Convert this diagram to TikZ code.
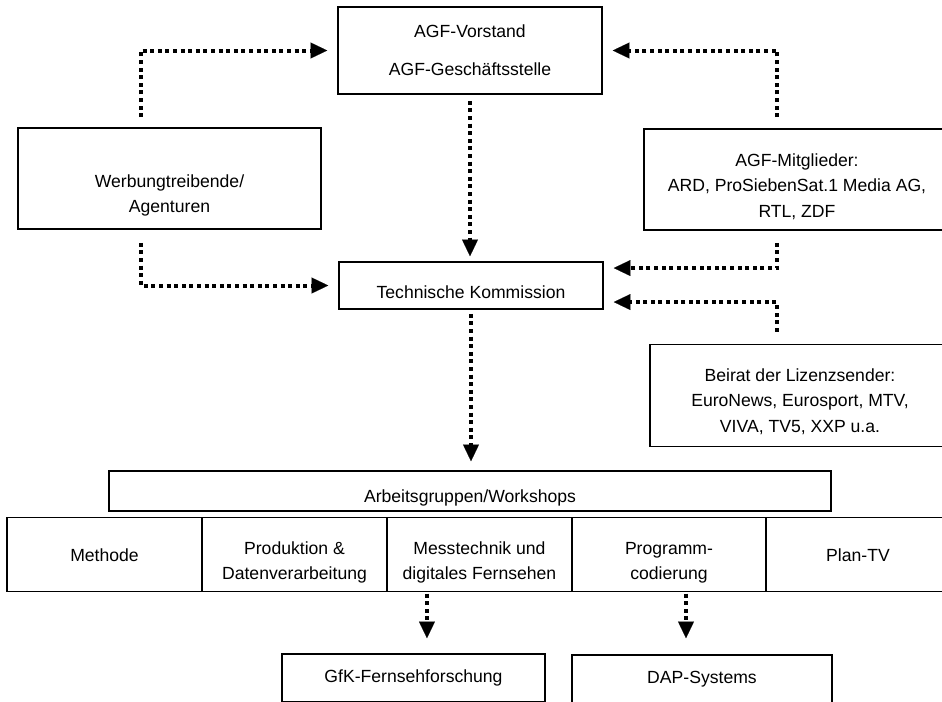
\documentclass[tikz,border=0pt]{standalone}
\usepackage{fontspec}
\setmainfont{Liberation Sans}
\usetikzlibrary{arrows.meta}
\tikzset{px/.style={x=.75pt,y=-.75pt,line width=1.2pt,font=\fontsize{13.2}{19}\selectfont},
  box/.style={draw,inner sep=0pt,align=center},
  sunk/.style={text height=#1},sunk/.default=20pt,
  flow/.style={line width=3pt,dash pattern=on 3pt off 2.7pt,shorten >=7.5pt,
    -{Triangle[length=12.5pt,width=12pt,line width=.1pt]}}}
\begin{document}
\begin{tikzpicture}[px]
  \useasboundingbox (0,0) rectangle (942,701);
  \clip (0,0) rectangle (942,701);
  % top: Vorstand, Kommission and the three groups around them
  \node[box,minimum width=198pt,minimum height=65.25pt] (agf) at (470,50.5) {AGF-Vorstand\\[9.5pt]AGF-Geschäftsstelle};
  \node[box,sunk=54pt,minimum width=227.25pt,minimum height=75.75pt] (werb) at (169.5,178.5) {Werbungtreibende/\\Agenturen};
  \node[box,sunk=58pt,minimum width=229.5pt,minimum height=75.75pt] (mitgl) at (797,179.5) {AGF-Mitglieder:\\ARD, ProSiebenSat.1 Media AG,\\RTL, ZDF};
  \node[box,sunk,minimum width=198pt,minimum height=35.25pt] (tk) at (471,285.5) {Technische Kommission};
  \node[box,sunk=56.5pt,minimum width=225pt,minimum height=76.5pt] (beirat) at (800,395.5) {Beirat der Lizenzsender:\\EuroNews, Eurosport, MTV,\\VIVA, TV5, XXP u.a.};
  \draw[flow,shorten <=7.5pt] ([xshift=-21.4pt]werb.north) |- (agf.west);
  \draw[flow,shorten <=9.75pt] ([xshift=-21.4pt]werb.south) |- (tk.west);
  \draw[flow,shorten <=4.5pt,shorten >=3.75pt] (agf.south) -- (agf.south |- tk.north);
  \draw[flow,shorten <=8.25pt] ([xshift=100.5pt]mitgl.north west) |- (agf.east);
  \draw[flow,shorten <=9pt] ([xshift=100.5pt]mitgl.south west) |- ([yshift=13.1pt]tk.east);
  \draw[flow,shorten <=9pt] ([xshift=96pt]beirat.north west) |- ([yshift=-12.4pt]tk.east);
  % Arbeitsgruppen
  \node[box,sunk,minimum width=541.5pt,minimum height=30pt] (ag) at (470,491) {Arbeitsgruppen/Workshops};
  \draw[flow,shorten <=3pt,shorten >=6.75pt] (tk.south) -- (tk.south |- ag.north);
  \foreach \n/\x/\w/\h/\t in {meth/104.5/195/10/Methode,prod/294.5/185/40/{Produktion \&\\Datenverarbeitung},
      mess/479.5/185/40/{Messtechnik und\\digitales Fernsehen},prog/669/194/40/{Programm-\\codierung},plan/858/184/10/Plan-TV}
    {\node[box,sunk=\h pt,minimum width=\w*0.75pt,minimum height=55.5pt] (\n) at (\x,554.5) {\t};}
  % institutes
  \node[box,minimum width=197.25pt,minimum height=36pt] (gfk) at (413.5,678) {GfK-Fernsehforschung};
  \node[box,minimum width=195pt,minimum height=36pt] (dap) at (702,679) {DAP-Systems};
  \coordinate (m) at ([xshift=-39.4pt]mess.south);
  \coordinate (p) at ([xshift=12.75pt]prog.south);
  \draw[flow,shorten <=1pt,shorten >=11.25pt] (m) -- (m |- gfk.north);
  \draw[flow,shorten <=1pt,shorten >=12pt] (p) -- (p |- dap.north);
\end{tikzpicture}
\end{document}
